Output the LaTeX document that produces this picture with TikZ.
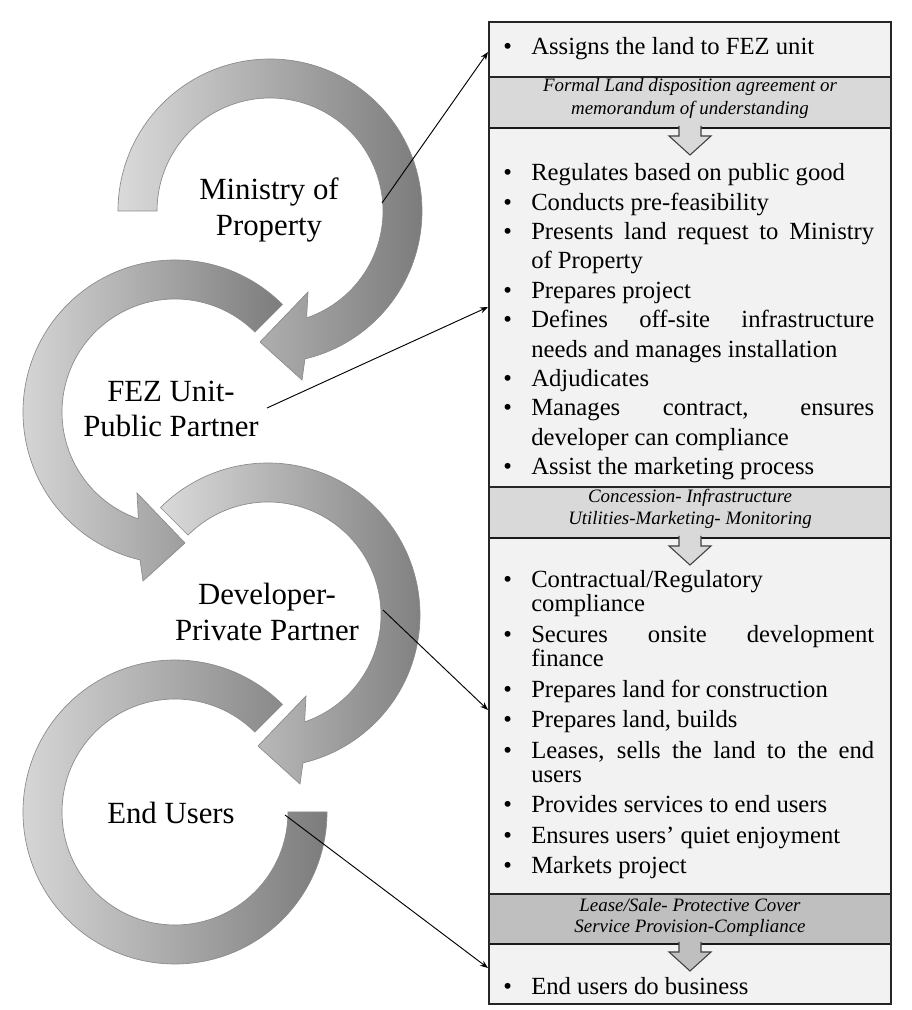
\documentclass[tikz,border=0pt]{standalone}
\usepackage{fontspec}
\setmainfont{Liberation Serif}
\usetikzlibrary{arrows.meta}

\definecolor{ringlight}{HTML}{DADADA}
\definecolor{ringdark}{HTML}{7C7C7C}
\definecolor{ringedge}{HTML}{8A8A8A}
\definecolor{panelfill}{HTML}{F2F2F2}
\definecolor{bandfill}{HTML}{D9D9D9}
\definecolor{banddark}{HTML}{BFBFBF}

\tikzset{
  ring/.style={draw=ringedge, line width=0.5pt, left color=ringlight, right color=ringdark},
  role/.style={inner sep=0pt, align=center, font=\fontsize{23.1}{26.3}\selectfont},
  link/.style={line width=0.7pt, -{Stealth[length=6pt,width=4.5pt]}},
  downarrow/.style={draw=black!75, line width=0.8pt},
}

% one bullet line, hanging indent
\newcommand\bitem[1]{\par\noindent\hangindent=21pt\hangafter=1\makebox[21pt][l]{\textbullet}#1\par}
\newcommand\panelset{\hyphenpenalty=10000\exhyphenpenalty=10000\tolerance=10000\lineskiplimit=-100pt}

\begin{document}
\begin{tikzpicture}[x=0.75pt,y=0.75pt]
	\useasboundingbox (0,0) rectangle (911,1010);
	\coordinate (mop) at (270,799);
	\coordinate (fez) at (175,598);
	\coordinate (dev) at (268,395);
	\coordinate (eu) at (175,198);
	% circular arrows
	\path[ring,shift={(mop)}] (180:152) arc (180:-76.7:152) -- (32,-169) -- (-10,-131) -- (38,-81) -- (-71.1:113) arc (-71.1:180:113) -- cycle;
	\path[ring,shift={(fez)}] (45:152) arc (45:256.7:152) -- (-32,-169) -- (10,-131) -- (-38,-81) -- (251.1:113) arc (251.1:45:113) -- cycle;
	\path[ring,shift={(dev)}] (135:152) arc (135:-76.7:152) -- (32,-169) -- (-10,-131) -- (38,-81) -- (-71.1:113) arc (-71.1:135:113) -- cycle;
	\path[ring,shift={(eu)}] (45:152) arc (45:360:152) -- (0:113) arc (360:45:113) -- cycle;
	\node[role] (mop-lbl) at (269,800) {Ministry of\\Property};
	\node[role] (fez-lbl) at (171,601) {FEZ Unit-\\Public Partner};
	\node[role] (dev-lbl) at (267,398) {Developer-\\Private Partner};
	\node[role] (eu-lbl) at (171,197) {End Users};
	% the panel on the right
	\fill[panelfill] (489,6) rectangle (891,988);
	\foreach \lo/\hi/\col in {882/933/bandfill,472/523/bandfill,66/116/banddark}{
		\fill[\col] (489,\lo) rectangle (891,\hi);
		\draw[black!85,line width=1.1pt] (489,\hi) -- (891,\hi);
		\draw[black!90,line width=2pt] (489,\lo) -- (891,\lo);
	}
	\draw[black!85,line width=1.1pt] (489,6) rectangle (891,988);
	\foreach \ytop/\col in {884/bandfill,474/bandfill,68/banddark}{
		\fill[\col] (679,\ytop) -- (679,\ytop-10) -- (669,\ytop-10) -- (690,\ytop-29) -- (711,\ytop-10) -- (701,\ytop-10) -- (701,\ytop) -- cycle;
		\draw[downarrow] (679,\ytop) -- (679,\ytop-10) -- (669,\ytop-10) -- (690,\ytop-29) -- (711,\ytop-10) -- (701,\ytop-10) -- (701,\ytop);
	}
	\node[anchor=base west,inner sep=0pt] (sec1) at (503,955) {\begin{minipage}[t]{278.25pt}\fontsize{18.5}{22.05}\selectfont\panelset
		\bitem{Assigns the land to FEZ unit}
	\end{minipage}};
	\node[anchor=base,inner sep=0pt] (band1) at (690,918) {\begin{minipage}[t]{290pt}\centering\fontsize{14.2}{17.25}\selectfont\itshape
		Formal Land disposition agreement or\\memorandum of understanding
	\end{minipage}};
	\node[anchor=base west,inner sep=0pt] (sec2) at (503,829.3) {\begin{minipage}[t]{278.25pt}\fontsize{18.5}{22.05}\selectfont\panelset
		\bitem{Regulates based on public good}
		\bitem{Conducts pre-feasibility}
		\bitem{Presents land request to Ministry\linebreak of Property}
		\bitem{Prepares project}
		\bitem{Defines off-site infrastructure\linebreak needs and manages installation}
		\bitem{Adjudicates}
		\bitem{Manages contract, ensures\linebreak developer can compliance}
		\bitem{Assist the marketing process}
	\end{minipage}};
	\node[anchor=base,inner sep=0pt] (band2) at (690,507) {\begin{minipage}[t]{290pt}\centering\fontsize{14.2}{16.5}\selectfont\itshape
		Concession- Infrastructure\\Utilities-Marketing- Monitoring
	\end{minipage}};
	\node[anchor=base west,inner sep=0pt] (sec3) at (503,422) {\begin{minipage}[t]{278.25pt}\fontsize{18.5}{18}\selectfont\panelset\parskip=4.9pt
		\bitem{Contractual/Regulatory\newline compliance}
		\bitem{Secures onsite development\linebreak finance}
		\bitem{Prepares land for construction}
		\bitem{Prepares land, builds}
		\bitem{Leases, sells the land to the end\linebreak users}
		\bitem{Provides services to end users}
		\bitem{Ensures users’ quiet enjoyment}
		\bitem{Markets project}
	\end{minipage}};
	\node[anchor=base,inner sep=0pt] (band3) at (690,98) {\begin{minipage}[t]{290pt}\centering\fontsize{14.2}{15.75}\selectfont\itshape
		Lease/Sale- Protective Cover\\Service Provision-Compliance
	\end{minipage}};
	\node[anchor=base west,inner sep=0pt] (sec4) at (503,15) {\begin{minipage}[t]{278.25pt}\fontsize{18.5}{22.05}\selectfont\panelset
		\bitem{End users do business}
	\end{minipage}};
	% connectors
	\coordinate (mop-out) at (382,807);
	\coordinate (sec1-in) at (488,958);
	\coordinate (fez-out) at (267,602);
	\coordinate (sec2-in) at (488,703);
	\coordinate (dev-out) at (383,400);
	\coordinate (sec3-in) at (488,300);
	\coordinate (eu-out) at (285,195);
	\coordinate (sec4-in) at (488,42);
	\draw[link] (mop-out) -- (sec1-in);
	\draw[link] (fez-out) -- (sec2-in);
	\draw[link] (dev-out) -- (sec3-in);
	\draw[link] (eu-out) -- (sec4-in);
\end{tikzpicture}
\end{document}
